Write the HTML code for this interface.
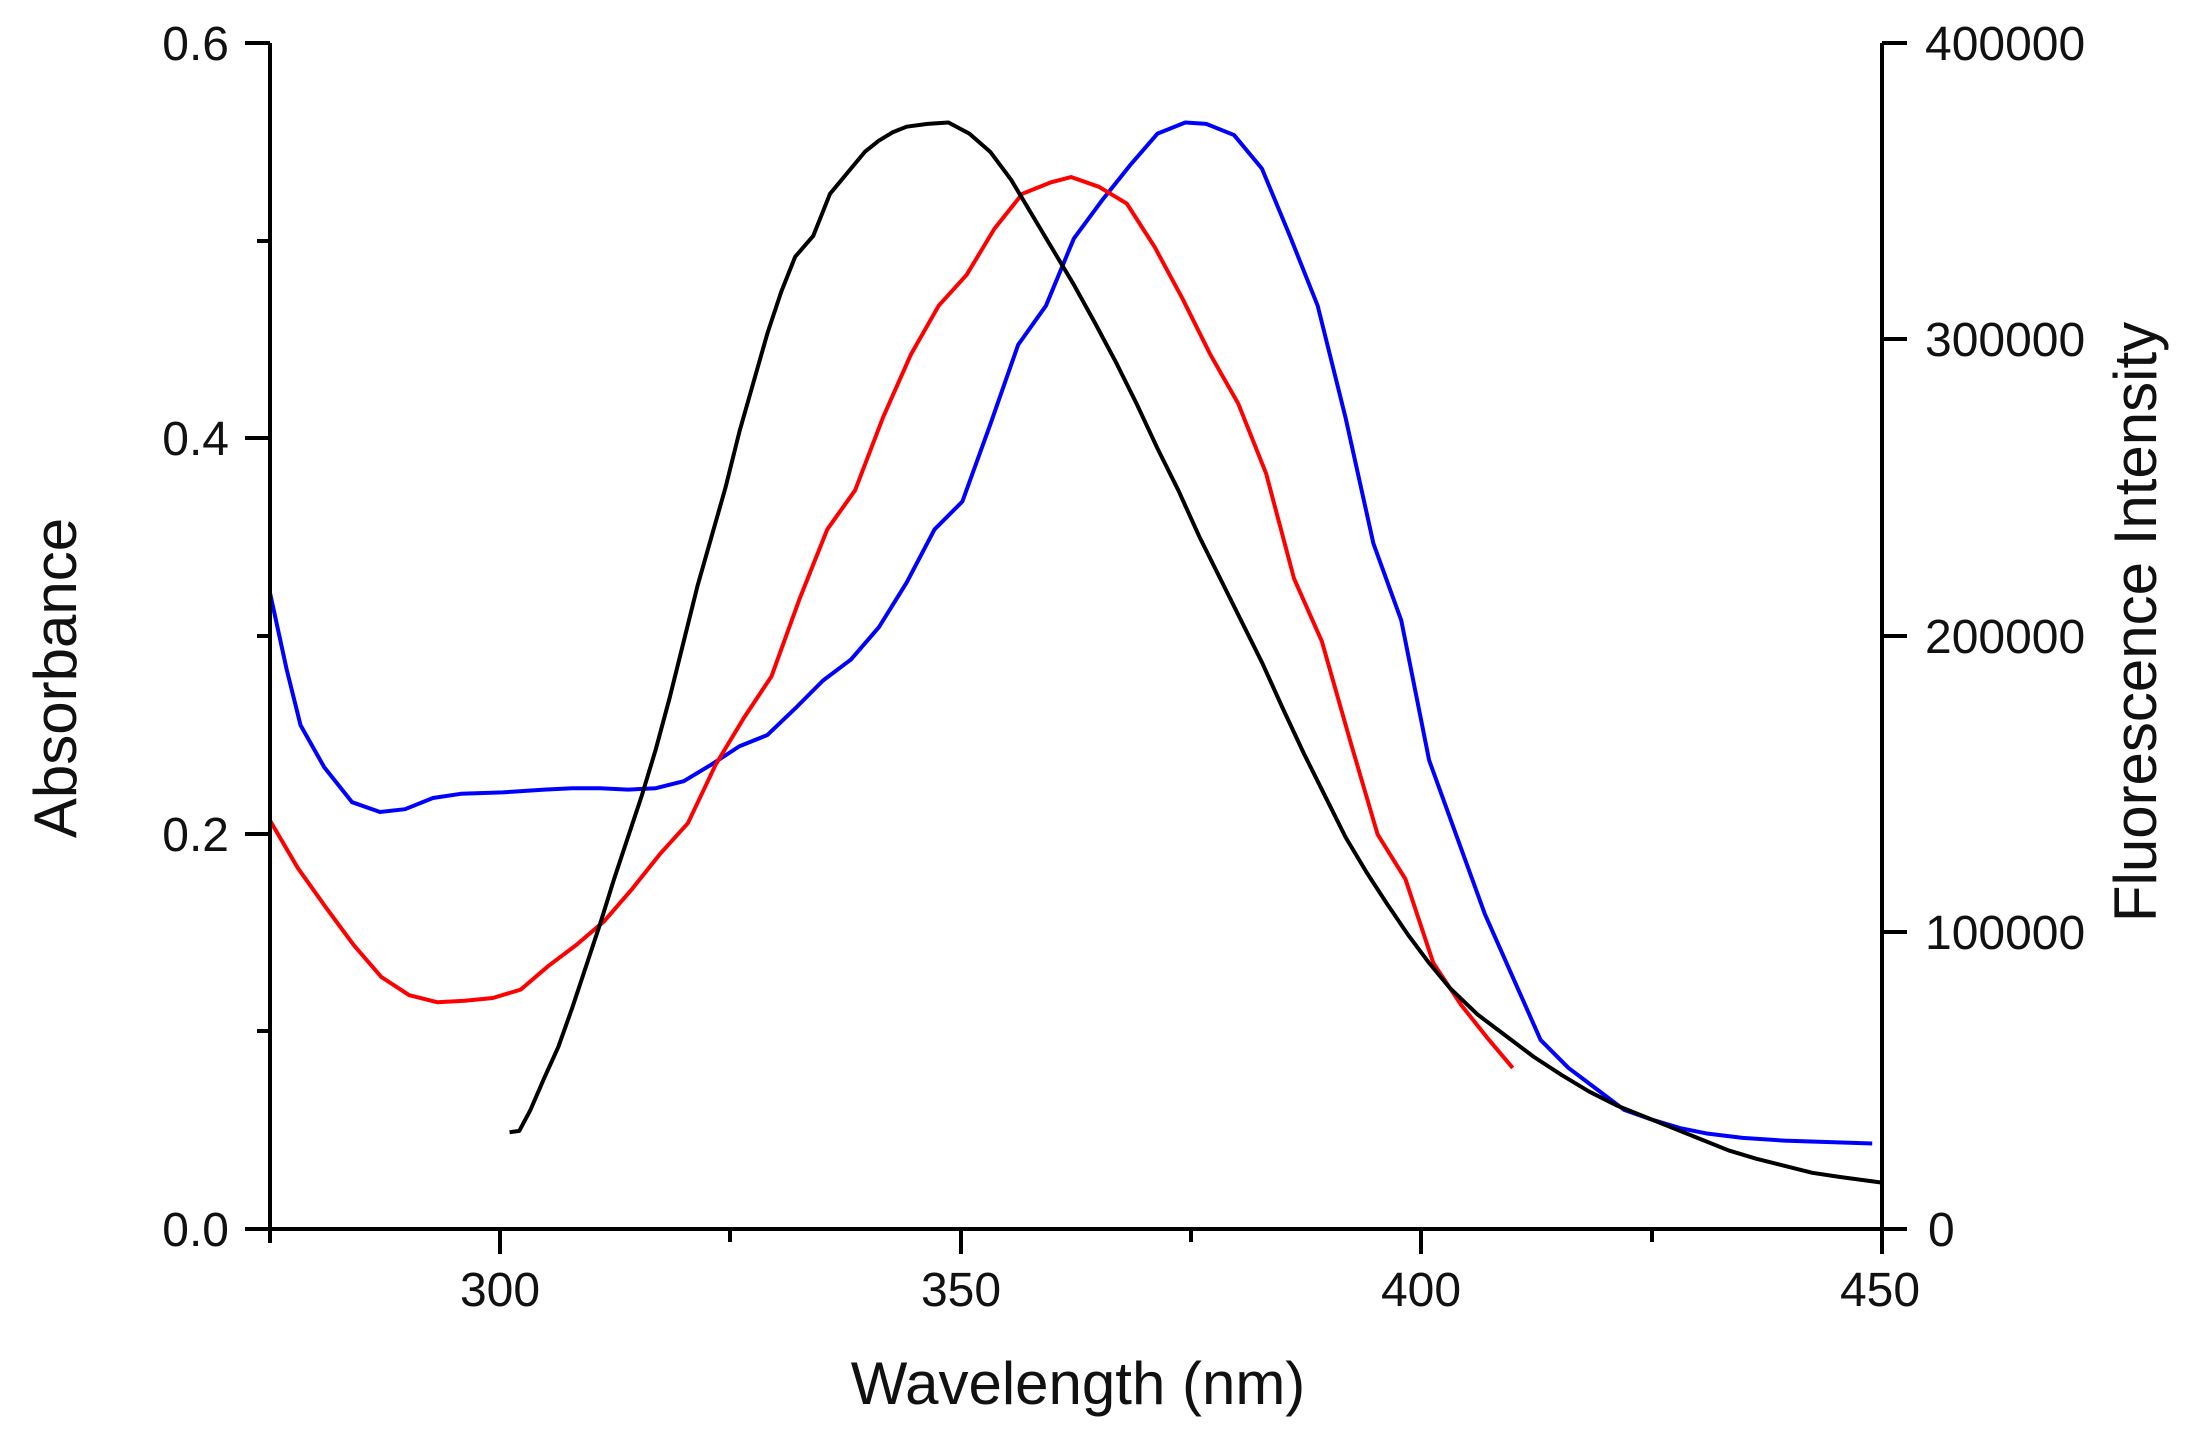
<!DOCTYPE html>
<html><head><meta charset="utf-8"><style>
html,body{margin:0;padding:0;background:#fff;}
svg{display:block;}
text{font-family:"Liberation Sans",Arial,sans-serif;fill:#111;}
</style></head><body>
<svg width="2186" height="1446" viewBox="0 0 2186 1446" xmlns="http://www.w3.org/2000/svg">
<rect width="2186" height="1446" fill="#fff"/>
<g transform="translate(1,-2) scale(1.3933,1.3986)" fill="none" stroke-width="4" stroke-linejoin="round">
<polyline vector-effect="non-scaling-stroke" stroke="#0000ff" points="193,425 205,480 215,520 232,550 252,575 272,582 290,580 310,572 330,569 360,568 390,566 410,565 430,565 450,566 470,565 490,560 510,548 530,535 550,527 570,508 590,488 610,473 630,450 650,418 670,380 690,360 710,305 730,248 750,220 770,172 790,145 810,120 830,97 850,89 865,90 885,98 905,122 925,170 945,220 965,300 985,390 1005,445 1025,545 1045,600 1065,655 1085,700 1105,745 1125,765 1145,780 1165,795 1185,802 1205,808 1225,812 1250,815 1280,817 1310,818 1343,819"/>
<polyline vector-effect="non-scaling-stroke" stroke="#ff0000" points="193,588 213,622 233,650 253,677 273,700 293,713 313,718 333,717 353,715 373,709 393,692 413,677 433,660 453,637 473,612 493,590 513,548 533,515 553,485 573,430 593,380 613,352 633,300 653,255 673,220 693,198 713,165 733,140 753,132 768,128 788,135 808,147 828,178 848,215 868,255 888,290 908,340 928,415 948,460 968,530 988,598 1008,630 1028,690 1048,720 1068,745 1085,765"/>
<polyline vector-effect="non-scaling-stroke" stroke="#000" points="365,811 372,810 380,795 390,772 400,750 410,722 420,692 430,662 440,630 450,600 460,570 470,537 480,500 490,460 500,420 510,385 520,350 530,310 540,275 550,240 560,210 570,185 583,170 595,140 610,122 620,110 630,102 640,96 650,92 665,90 680,89 695,97 710,110 725,130 740,155 755,180 770,205 785,232 800,260 815,290 830,322 845,352 860,385 875,415 890,445 905,475 920,508 935,540 950,570 965,600 980,625 995,648 1010,670 1025,690 1040,708 1060,727 1080,742 1100,757 1120,770 1140,782 1160,792 1180,800 1200,808 1220,816 1240,824 1260,830 1280,835 1300,840 1320,843 1350,847"/>
</g>
<g stroke="#000" stroke-width="4" fill="none">
<line x1="270" y1="43" x2="270" y2="1231"/>
<line x1="268" y1="1229" x2="1884" y2="1229"/>
<line x1="1882" y1="43" x2="1882" y2="1254"/>
<line x1="245" y1="43" x2="270" y2="43"/>
<line x1="245" y1="438" x2="270" y2="438"/>
<line x1="245" y1="834" x2="270" y2="834"/>
<line x1="245" y1="1229" x2="270" y2="1229"/>
<line x1="257" y1="241" x2="270" y2="241"/>
<line x1="257" y1="636" x2="270" y2="636"/>
<line x1="257" y1="1031" x2="270" y2="1031"/>
<line x1="270" y1="1229" x2="270" y2="1243"/>
<line x1="500" y1="1229" x2="500" y2="1254"/>
<line x1="961" y1="1229" x2="961" y2="1254"/>
<line x1="1421" y1="1229" x2="1421" y2="1254"/>
<line x1="730" y1="1229" x2="730" y2="1242"/>
<line x1="1191" y1="1229" x2="1191" y2="1242"/>
<line x1="1652" y1="1229" x2="1652" y2="1242"/>
<line x1="1882" y1="43" x2="1907" y2="43"/>
<line x1="1882" y1="339" x2="1907" y2="339"/>
<line x1="1882" y1="636" x2="1907" y2="636"/>
<line x1="1882" y1="932" x2="1907" y2="932"/>
<line x1="1882" y1="1229" x2="1907" y2="1229"/>
</g>
<g font-size="48" text-anchor="end">
<text x="229" y="60">0.6</text>
<text x="229" y="455">0.4</text>
<text x="229" y="851">0.2</text>
<text x="229" y="1246">0.0</text>
</g>
<g font-size="48" text-anchor="start">
<text x="1925" y="60">400000</text>
<text x="1925" y="356">300000</text>
<text x="1925" y="653">200000</text>
<text x="1925" y="949">100000</text>
<text x="1928" y="1246">0</text>
</g>
<g font-size="48" text-anchor="middle">
<text x="500" y="1306">300</text>
<text x="961" y="1306">350</text>
<text x="1421" y="1306">400</text>
<text x="1880" y="1306">450</text>
</g>
<text x="1078" y="1404" font-size="60" text-anchor="middle">Wavelength (nm)</text>
<text transform="translate(76,678) rotate(-90)" font-size="60" text-anchor="middle">Absorbance</text>
<text transform="translate(2156,622) rotate(-90)" font-size="60" text-anchor="middle">Fluorescence Intensity</text>
</svg>
</body></html>
